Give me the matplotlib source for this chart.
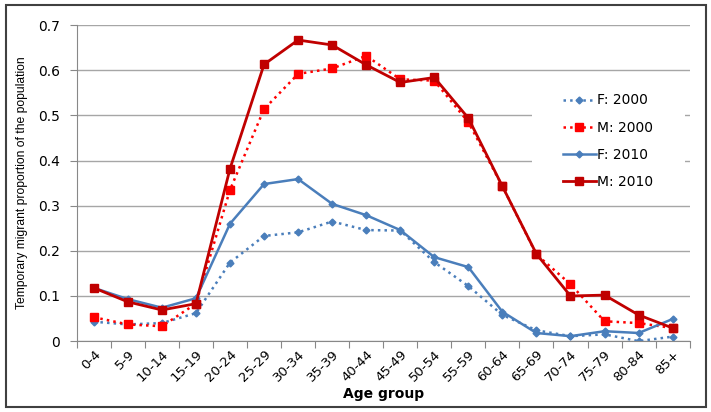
import matplotlib
matplotlib.use('Agg')
import matplotlib.pyplot as plt
from matplotlib.patches import Rectangle

plt.rcParams['font.family'] = ['DejaVu Sans']

# Age groups and series values
age_groups = ['0-4', '5-9', '10-14', '15-19', '20-24', '25-29', '30-34', '35-39', '40-44',
              '45-49', '50-54', '55-59', '60-64', '65-69', '70-74', '75-79', '80-84', '85+']
f_2000 = [0.043, 0.037, 0.040, 0.062, 0.174, 0.233, 0.241, 0.265, 0.246,
          0.245, 0.175, 0.122, 0.058, 0.024, 0.011, 0.015, 0.000, 0.010]
m_2000 = [0.053, 0.037, 0.033, 0.083, 0.335, 0.514, 0.592, 0.604, 0.632,
          0.580, 0.577, 0.485, 0.343, 0.192, 0.126, 0.044, 0.040, 0.029]
f_2010 = [0.118, 0.093, 0.074, 0.095, 0.260, 0.348, 0.359, 0.304, 0.279,
          0.246, 0.186, 0.164, 0.065, 0.018, 0.011, 0.022, 0.018, 0.049]
m_2010 = [0.118, 0.087, 0.069, 0.083, 0.382, 0.613, 0.667, 0.656, 0.612,
          0.573, 0.584, 0.494, 0.343, 0.193, 0.100, 0.102, 0.058, 0.029]

blue = '#4A7EBB'
red = '#FF0000'
darkred = '#C00000'

fig = plt.figure(figsize=(7.11, 4.12), dpi=100)
ax = fig.add_axes([0.108, 0.172, 0.862, 0.767])

x = [i + 0.5 for i in range(len(age_groups))]

ax.plot(x, f_2000, color=blue, linestyle=':', linewidth=1.8, marker='D', markersize=3.5, label='F: 2000')
ax.plot(x, m_2000, color=red, linestyle=':', linewidth=1.8, marker='s', markersize=6, label='M: 2000')
ax.plot(x, f_2010, color=blue, linestyle='-', linewidth=1.8, marker='D', markersize=3.5, label='F: 2010')
ax.plot(x, m_2010, color=darkred, linestyle='-', linewidth=2, marker='s', markersize=6, label='M: 2010')

ax.set_xlim(0, len(age_groups))
ax.set_ylim(0, 0.7)
ax.set_yticks([0, 0.1, 0.2, 0.3, 0.4, 0.5, 0.6, 0.7])
ax.set_yticklabels(['0', '0.1', '0.2', '0.3', '0.4', '0.5', '0.6', '0.7'], fontsize=10)

# ticks at category boundaries, labels at centres
ax.set_xticks(range(len(age_groups) + 1))
ax.set_xticklabels([])
ax.set_xticks(x, minor=True)
ax.set_xticklabels(age_groups, minor=True, rotation=45, ha='right', rotation_mode='anchor', fontsize=9.5)
ax.tick_params(axis='x', which='minor', length=0, pad=5)
ax.tick_params(axis='x', which='major', length=5, color='#888888')
ax.tick_params(axis='y', length=5, color='#888888', pad=7)

ax.yaxis.grid(True, color='#A6A6A6', linewidth=1)
ax.set_axisbelow(True)
for s in ['top', 'right']:
    ax.spines[s].set_visible(False)
ax.spines['left'].set_color('#888888')
ax.spines['bottom'].set_color('#888888')

ax.set_xlabel('Age group', fontsize=10, fontweight='bold', labelpad=2)
ax.set_ylabel('Temporary migrant proportion of the population',
              family='Liberation Sans', fontsize=8.7, labelpad=7)

# white panel behind the legend that interrupts the gridlines
ax.add_patch(Rectangle((0.742, 0.446), 0.25, 0.396, transform=ax.transAxes,
                       facecolor='white', edgecolor='none', zorder=1))

leg = ax.legend(loc='upper left', bbox_to_anchor=(0.77, 0.828), frameon=False, fontsize=10,
                labelspacing=0.95, handlelength=2.4, handletextpad=0.05, borderpad=0.5)

# outer border
fig.add_artist(Rectangle((0.008, 0.012), 0.985, 0.975, transform=fig.transFigure,
                         fill=False, edgecolor='#404040', linewidth=1.5))

fig.savefig('out.png', dpi=100)
